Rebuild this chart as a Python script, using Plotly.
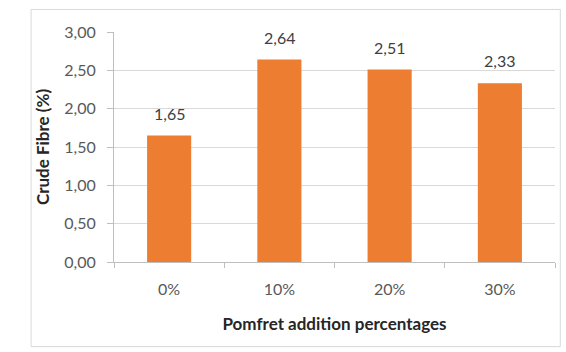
import plotly.graph_objects as go

categories = ["0%", "10%", "20%", "30%"]
values = [1.65, 2.64, 2.51, 2.33]
value_labels = ["1,65", "2,64", "2,51", "2,33"]
y_ticks = [0, 0.5, 1.0, 1.5, 2.0, 2.5, 3.0]
y_tick_labels = ["0,00", "0,50", "1,00", "1,50", "2,00", "2,50", "3,00"]

FONT = "Lato, Open Sans, sans-serif"

fig = go.Figure()
fig.add_trace(go.Bar(
    x=categories, y=values,
    marker=dict(color="#ED7D31", line=dict(width=0)),
    width=0.4,
))

for c, v, t in zip(categories, values, value_labels):
    fig.add_annotation(x=c, y=v, text=t, showarrow=False, yanchor="bottom",
                       yshift=11, font=dict(family=FONT, size=16, color="#404040"))

fig.update_layout(
    width=566, height=352,
    margin=dict(l=114, r=11, t=32, b=90),
    paper_bgcolor="white", plot_bgcolor="white",
    showlegend=False,
    font=dict(family=FONT, size=16, color="#595959"),
    xaxis=dict(
        showline=True, linecolor="#bfbfbf", linewidth=1,
        ticks="outside", tickson="boundaries", ticklen=5, tickcolor="#bfbfbf",
        tickfont=dict(family=FONT, size=16, color="#595959"),
        ticklabelstandoff=13,
        title=dict(text="<b>Pomfret addition percentages</b>", standoff=20,
                   font=dict(family=FONT, size=17, color="#262626")),
    ),
    yaxis=dict(
        range=[0, 3.0], tickvals=y_ticks, ticktext=y_tick_labels,
        showgrid=True, gridcolor="#d9d9d9", gridwidth=1,
        showline=True, linecolor="#bfbfbf", linewidth=1,
        ticks="outside", ticklen=6, tickcolor="#bfbfbf",
        tickfont=dict(family=FONT, size=16, color="#595959"),
        ticklabelstandoff=8,
        zeroline=False,
        title=dict(text="<b>Crude Fibre (%)</b>", standoff=10,
                   font=dict(family=FONT, size=17, color="#262626")),
    ),
    bargap=0.6,
)

fig.add_shape(type="rect", xref="paper", yref="paper",
              x0=-0.188, x1=1.012, y0=-0.368, y1=1.098,
              line=dict(color="#d9d9d9", width=1), layer="below")

fig.write_html("out.html")
